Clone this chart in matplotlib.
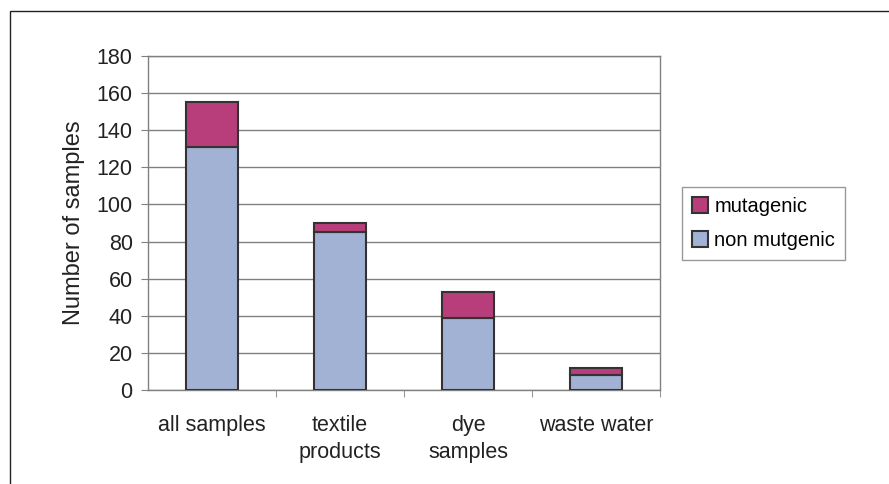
import matplotlib
matplotlib.use("Agg")
import matplotlib.pyplot as plt
from matplotlib.patches import Rectangle

categories = ["all samples", "textile\nproducts", "dye\nsamples", "waste water"]
non_mutagenic = [131, 85, 39, 8]
mutagenic = [24, 5, 14, 4]
yticks = [0, 20, 40, 60, 80, 100, 120, 140, 160, 180]

plt.rcParams['font.family'] = ['Liberation Sans', 'DejaVu Sans']

fig = plt.figure(figsize=(8.89, 4.84), dpi=100)
fig.patches.append(Rectangle((10/889, -0.1), 1.2, (484-11)/484 + 0.1, transform=fig.transFigure,
                             fill=False, edgecolor='#222222', linewidth=1.0))

ax = fig.add_axes([148/889, (484-390)/484, (660-148)/889, (390-56)/484])
x = list(range(len(categories)))
c_non = '#A2B2D4'
c_mut = '#B83E7B'
edge = '#333333'
b1 = ax.bar(x, non_mutagenic, width=0.4, color=c_non, edgecolor=edge, linewidth=1.5, label='non mutgenic', zorder=3)
b2 = ax.bar(x, mutagenic, bottom=non_mutagenic, width=0.4, color=c_mut, edgecolor=edge, linewidth=1.5, label='mutagenic', zorder=3)

ax.set_xlim(-0.5, 3.5)
ax.set_ylim(0, 180)
ax.set_yticks(yticks)
ax.tick_params(axis='y', direction='out', length=5, color='#808080', labelsize=15.5, labelcolor='#222222', pad=6)
ax.set_xticks(x)
ax.set_xticklabels(categories, fontsize=15.5, color='#222222', linespacing=1.35)
ax.set_xticks([0.5, 1.5, 2.5, 3.5], minor=True)
ax.tick_params(axis='x', which='major', length=0, pad=18)
ax.tick_params(axis='x', which='minor', direction='out', length=5, color='#808080')
ax.grid(axis='y', color='#808080', linewidth=1.0, zorder=0)
for s in ax.spines.values():
    s.set_color('#808080')
    s.set_linewidth(1.0)
ax.set_ylabel('Number of samples', fontsize=17, color='#222222', labelpad=8)

leg = fig.legend(handles=[b2, b1], labels=['mutagenic', 'non mutgenic'],
                 loc='upper left', bbox_to_anchor=(682/889, (484-187)/484), borderaxespad=0,
                 fontsize=14.5, frameon=True, fancybox=False, edgecolor='#808080',
                 handlelength=0.8, handleheight=0.8, handletextpad=0.3, borderpad=0.5,
                 labelspacing=0.75)
leg.get_frame().set_linewidth(1.0)

fig.savefig('out.png', dpi=100)
